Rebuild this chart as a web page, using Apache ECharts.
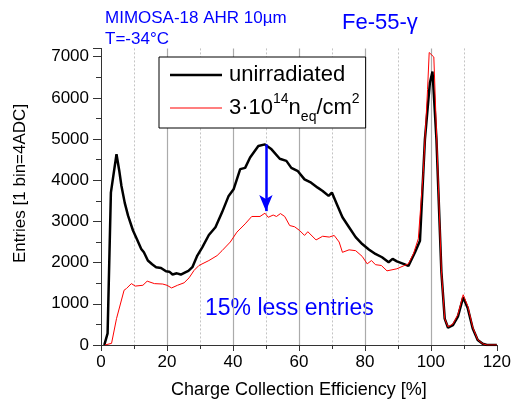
<!DOCTYPE html>
<html>
<head>
<meta charset="utf-8">
<script src="https://cdn.jsdelivr.net/npm/echarts@6/dist/echarts.min.js"></script>
<style>html,body{margin:0;padding:0;background:#fff}#c{width:514px;height:404px}</style>
</head>
<body>
<div id="c"></div>
<script>
var FONT = "'Liberation Sans', Arial, sans-serif";
var xTicks = [0, 20, 40, 60, 80, 100, 120];
var yTicks = [0, 1000, 2000, 3000, 4000, 5000, 6000, 7000];

var blackX = [1,2,3,4,4.7,5.5,6.2,7.2,8.2,9.7,11,12.2,13,14.2,15.5,16.7,18.2,19.7,20.7,21.7,23,24.2,25.7,26.5,27.7,29.2,30.7,32.7,34.7,36.7,38.7,40.2,42.2,43.7,45.2,47.7,49.7,51.7,52.2,54.2,56.2,57.7,59.7,61.7,63.7,65.7,67.2,69,70,71.7,73.2,75.2,77.2,79.2,81.2,83.2,85.2,87.2,88.4,89.7,91.7,93.2,95.2,96.7,98.2,99.7,100.5,101.7,103.2,104.2,105.2,106.7,108.2,109.8,111.2,112.7,114.2,115.7,117,120];
var blackY = [0,280,3700,4250,4630,4250,3860,3450,3140,2780,2550,2330,2250,2050,1960,1890,1870,1790,1780,1710,1740,1710,1770,1800,1890,2170,2370,2670,2860,3220,3620,3780,4270,4300,4550,4830,4870,4750,4710,4520,4470,4300,4220,4020,3940,3820,3740,3620,3700,3380,3100,2860,2620,2450,2320,2210,2130,2010,2090,2030,1970,1920,2250,2530,4990,6360,6640,4990,1770,640,420,480,690,1160,890,400,120,30,0,0];

var redX = [1.2,3.2,4.7,7,7.7,9.2,10.4,12.7,14,16.2,18.7,20,21.4,23.2,25.2,26.7,28.2,29.7,32.7,35.2,36.7,39.2,41.2,43.7,45.7,48.2,49.7,50.7,52.2,53.2,54.4,55.7,57.2,58.7,60.2,61.7,62.7,65.2,67.2,69.2,70.7,72.2,73.2,75.2,77.2,79.2,80.7,82,83.2,85,86.7,89.7,91.7,93.2,94.7,96.2,97.7,99,99.5,100.9,103.2,104.2,105.2,106.7,108.2,109.8,111.2,112.7,114.2,115.7,117,120];
var redY = [0,40,640,1330,1370,1490,1430,1450,1550,1490,1480,1450,1385,1450,1510,1630,1810,1930,2050,2170,2290,2500,2740,2940,3120,3120,3200,3100,3155,3120,3190,3120,2900,2870,2780,2660,2750,2550,2640,2620,2660,2500,2250,2310,2290,2150,1970,2050,1950,1930,1800,1850,1920,1970,2210,2580,4190,6200,7100,6990,1800,640,440,510,740,1220,940,430,130,30,0,0];

var arrowX = 50, arrowFrom = 4870, arrowTo = 3250;

function zip(a, b) { return a.map(function (v, i) { return [v, b[i]]; }); }

var chart = echarts.init(document.getElementById('c'), null, {renderer: 'canvas'});
var option = {
  animation: false,
  textStyle: {fontFamily: FONT},
  grid: {left: 101, right: 13.3, top: 48.4, bottom: 57.3},
  legend: {
    left: 159, top: 57,
    orient: 'vertical',
    backgroundColor: '#fff',
    borderColor: '#000', borderWidth: 1,
    padding: [5, 6, 4, 11],
    itemWidth: 52, itemHeight: 14, itemGap: 4,
    data: [
      {name: 'unirradiated', icon: 'path://M0,0 H52 V2.5 H0 Z', itemStyle: {color: '#000', borderWidth: 0}, textStyle: {fontSize: 22, lineHeight: 26}},
      {name: 'irr', icon: 'path://M0,0 H52 V1 H0 Z', itemStyle: {color: '#ff0000', borderWidth: 0}}
    ],
    formatter: function (n) {
      if (n === 'irr') return '{a|3·10}{sup|14}{a|n}{sub|eq}{a|/cm}{sup|2}';
      return n;
    },
    textStyle: {
      fontFamily: FONT, fontSize: 22, color: '#000', padding: [0, 0, 0, 2],
      rich: {
        a: {fontFamily: FONT, fontSize: 22, lineHeight: 32, color: '#000', verticalAlign: 'middle'},
        sup: {fontFamily: FONT, fontSize: 14, lineHeight: 32, color: '#000', verticalAlign: 'top'},
        sub: {fontFamily: FONT, fontSize: 14, lineHeight: 32, color: '#000', verticalAlign: 'bottom'}
      }
    }
  },
  xAxis: {
    type: 'value', min: 0, max: 120, interval: 20,
    name: 'Charge Collection Efficiency [%]', nameLocation: 'middle', nameGap: 36,
    nameTextStyle: {fontSize: 18, color: '#000', fontFamily: FONT},
    axisLine: {show: true, onZero: false, lineStyle: {color: '#333', width: 1}},
    axisTick: {show: true, inside: false, length: 6, lineStyle: {color: '#333'}},
    minorTick: {show: true, splitNumber: 2, length: 4, lineStyle: {color: '#333'}},
    axisLabel: {fontSize: 17, color: '#000', margin: 9, fontFamily: FONT},
    splitLine: {show: true, showMinLine: false, showMaxLine: false, lineStyle: {color: '#ababab', width: 1.2}},
    minorSplitLine: {show: true, lineStyle: {color: '#c4c4c4', type: [2, 2], width: 1}}
  },
  yAxis: {
    type: 'value', min: 0, max: 7200, interval: 1000,
    axisLine: {show: true, lineStyle: {color: '#333', width: 1}},
    axisTick: {show: true, inside: false, length: 8, lineStyle: {color: '#333'}},
    minorTick: {show: true, splitNumber: 2, length: 5, lineStyle: {color: '#333'}},
    axisLabel: {fontSize: 17, color: '#000', margin: 12, fontFamily: FONT, showMaxLabel: false,
      formatter: function (v) { return yTicks.indexOf(v) >= 0 ? String(v) : ''; }},
    splitLine: {show: false}
  },
  series: [
    {
      name: 'unirradiated', type: 'line', data: zip(blackX, blackY),
      symbol: 'none', showSymbol: false,
      lineStyle: {color: '#000', width: 2.5}, itemStyle: {color: '#000'}
    },
    {
      name: 'irr', type: 'line', data: zip(redX, redY),
      symbol: 'none', showSymbol: false,
      lineStyle: {color: '#ff0000', width: 1}, itemStyle: {color: '#ff0000'},
      markLine: {
        silent: true, symbol: ['none', 'arrow'], symbolSize: [10, 16],
        label: {show: false},
        lineStyle: {color: '#0000ff', width: 2.5, type: 'solid'},
        data: [[{coord: [arrowX, arrowFrom]}, {coord: [arrowX, arrowTo]}]]
      }
    }
  ],
  graphic: [
    {type: 'text', left: 105, top: 10, style: {text: 'MIMOSA-18 AHR 10µm', font: '17px ' + FONT, fill: '#0000ff'}},
    {type: 'text', left: 105, top: 31, style: {text: 'T=-34°C', font: '17px ' + FONT, fill: '#0000ff'}},
    {type: 'text', left: 342, top: 12, style: {text: 'Fe-55-γ', font: '22px ' + FONT, fill: '#0000ff'}},
    {type: 'text', left: 205, top: 297, style: {text: '15% less entries', font: '23px ' + FONT, fill: '#0000ff'}},
    {type: 'text', x: 20, y: 183.5, rotation: Math.PI / 2,
      style: {text: 'Entries [1 bin=4ADC]', font: '17px ' + FONT, fill: '#000', align: 'center', verticalAlign: 'middle'}}
  ]
};
chart.setOption(option);
</script>
</body>
</html>
